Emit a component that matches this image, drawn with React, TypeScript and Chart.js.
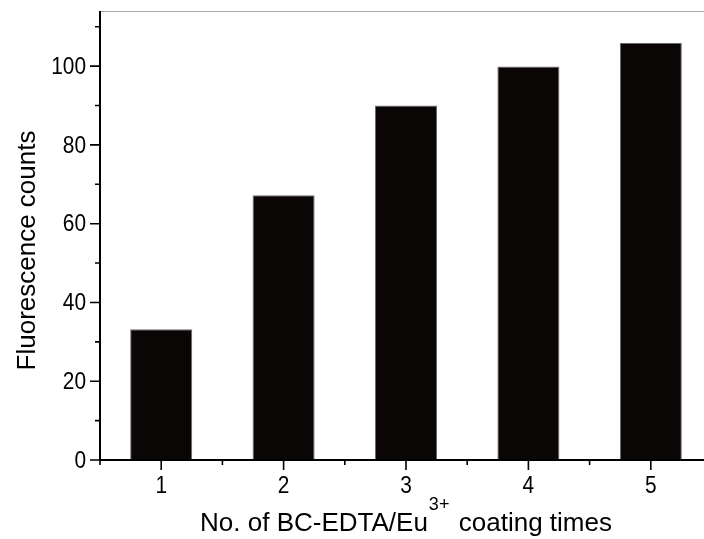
import { useEffect, useRef } from "react";
import { Chart, registerables } from "chart.js";

Chart.register(...registerables);

const categories = ["1", "2", "3", "4", "5"];
const counts = [33.2, 67.2, 90.0, 99.9, 105.9];
const yMajorStep = 20;
const yMinorTicks = [10, 30, 50, 70, 90, 110];
const yMin = 0;
const yMax = 114;
const yTitle = "Fluorescence counts";
const xTitleMain = "No. of BC-EDTA/Eu";
const xTitleSup = "3+";
const xTitleEnd = " coating times";

const FONT = "'Liberation Sans', Arial, Helvetica, sans-serif";
const TICK_SQUEEZE = 0.87;

const axesPlugin = {
  id: "originAxes",
  afterDraw(chart: any) {
    const { ctx, chartArea } = chart;
    const { left, right, top, bottom } = chartArea;
    const x = chart.scales.x;
    const y = chart.scales.y;
    ctx.save();
    // top frame line
    ctx.strokeStyle = "#a8a8a8";
    ctx.lineWidth = 1;
    ctx.beginPath();
    ctx.moveTo(left, top + 0.5);
    ctx.lineTo(right, top + 0.5);
    ctx.stroke();

    // axis lines
    ctx.strokeStyle = "#000";
    ctx.lineWidth = 2;
    ctx.beginPath();
    ctx.moveTo(left, top);
    ctx.lineTo(left, bottom);
    ctx.moveTo(left, bottom);
    ctx.lineTo(right, bottom);
    ctx.stroke();

    // tick marks
    ctx.lineWidth = 1.6;
    ctx.beginPath();
    y.ticks.forEach((t: any) => {
      const py = y.getPixelForValue(t.value);
      ctx.moveTo(left - 10, py);
      ctx.lineTo(left, py);
    });
    yMinorTicks.forEach((v) => {
      const py = y.getPixelForValue(v);
      ctx.moveTo(left - 5, py);
      ctx.lineTo(left, py);
    });
    categories.forEach((_c, i) => {
      const px = x.getPixelForValue(i);
      ctx.moveTo(px, bottom);
      ctx.lineTo(px, bottom + 10);
    });
    for (let i = 0; i <= categories.length; i++) {
      const px = x.getPixelForValue(i - 0.5);
      ctx.moveTo(px, bottom);
      ctx.lineTo(px, bottom + 5);
    }
    ctx.stroke();

    // tick labels (slightly condensed, as in the original)
    ctx.fillStyle = "#000";
    ctx.font = `24px ${FONT}`;
    ctx.textAlign = "right";
    ctx.textBaseline = "middle";
    y.ticks.forEach((t: any) => {
      const py = y.getPixelForValue(t.value);
      ctx.save();
      ctx.translate(left - 14, py + 1);
      ctx.scale(TICK_SQUEEZE, 1);
      ctx.fillText(String(t.label), 0, 0);
      ctx.restore();
    });
    ctx.textAlign = "center";
    ctx.textBaseline = "alphabetic";
    categories.forEach((c, i) => {
      const px = x.getPixelForValue(i);
      ctx.save();
      ctx.translate(px, bottom + 33);
      ctx.scale(TICK_SQUEEZE, 1);
      ctx.fillText(c, 0, 0);
      ctx.restore();
    });

    // titles
    ctx.textBaseline = "alphabetic";
    ctx.font = `26px ${FONT}`;
    ctx.save();
    ctx.translate(35, (top + bottom) / 2 + 15);
    ctx.rotate(-Math.PI / 2);
    ctx.textAlign = "center";
    ctx.fillText(yTitle, 0, 0);
    ctx.restore();

    ctx.textAlign = "left";
    ctx.font = `26px ${FONT}`;
    const w1 = ctx.measureText(xTitleMain).width;
    const w3 = ctx.measureText(xTitleEnd).width;
    ctx.font = `19px ${FONT}`;
    const w2 = ctx.measureText(xTitleSup).width;
    const total = w1 + w2 + w3 + 2;
    const cx = 406;
    let sx = cx - total / 2;
    const base = 531;
    ctx.font = `26px ${FONT}`;
    ctx.fillText(xTitleMain, sx, base);
    sx += w1 + 1;
    ctx.font = `19px ${FONT}`;
    ctx.save();
    ctx.translate(sx, base - 21);
    ctx.scale(0.95, 1);
    ctx.fillText(xTitleSup, 0, 0);
    ctx.restore();
    sx += w2 + 1;
    ctx.font = `26px ${FONT}`;
    ctx.fillText(xTitleEnd, sx, base);
    ctx.restore();
  },
};

export default function App() {
  const ref = useRef<HTMLCanvasElement | null>(null);

  useEffect(() => {
    if (!ref.current) return;
    const chart = new Chart(ref.current, {
      type: "bar",
      data: {
        labels: categories,
        datasets: [
          {
            data: counts,
            backgroundColor: "#0a0606",
            borderColor: "#6b6b6b",
            borderWidth: 1,
            barPercentage: 0.507,
            categoryPercentage: 1,
          },
        ],
      },
      options: {
        animation: false,
        responsive: false,
        devicePixelRatio: 1,
        layout: { padding: { top: 11, right: 8, left: 0, bottom: 0 } },
        plugins: {
          legend: { display: false },
          tooltip: { enabled: false },
        },
        scales: {
          x: {
            type: "category",
            offset: true,
            grid: { display: false },
            border: { display: false },
            ticks: { display: false },
            afterFit: (s: any) => {
              s.height = 79;
              s.paddingLeft = 0;
              s.paddingRight = 0;
            },
          },
          y: {
            min: yMin,
            max: yMax,
            grid: { display: false },
            border: { display: false },
            ticks: {
              display: false,
              stepSize: yMajorStep,
              includeBounds: false,
            },
            afterFit: (s: any) => {
              s.width = 100;
              s.paddingTop = 0;
              s.paddingBottom = 0;
            },
          },
        },
      },
      plugins: [axesPlugin],
    });
    return () => chart.destroy();
  }, []);

  return (
    <div
      style={{
        position: "fixed",
        left: 0,
        top: 0,
        width: 704,
        height: 539,
        overflow: "hidden",
        background: "#fff",
      }}
    >
      <canvas ref={ref} width={720} height={539} style={{ display: "block" }} />
    </div>
  );
}
